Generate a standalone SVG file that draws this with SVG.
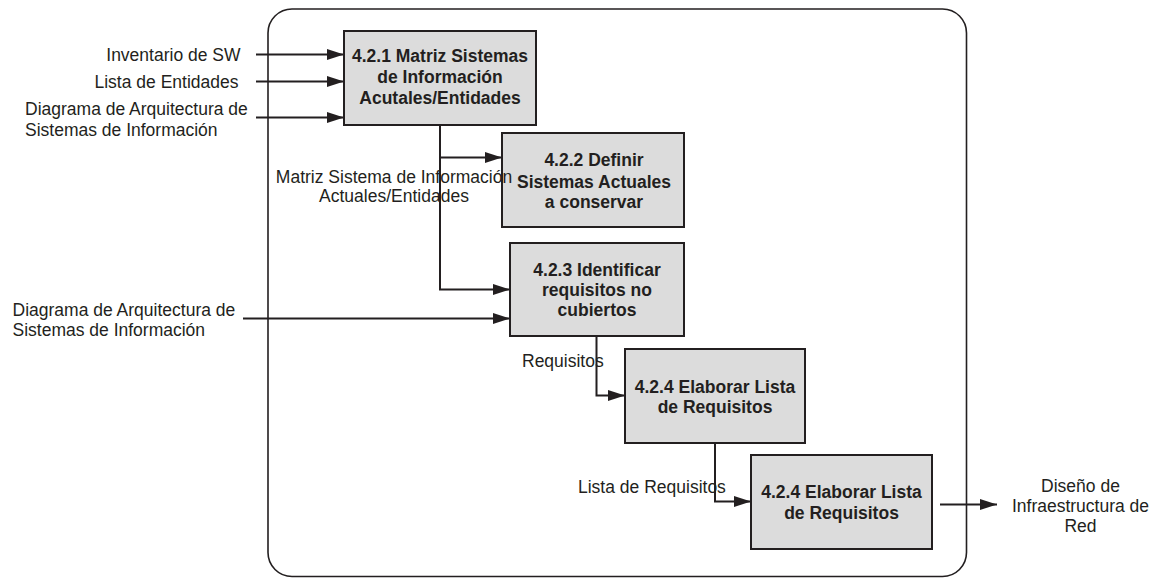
<svg xmlns="http://www.w3.org/2000/svg" width="1156" height="578" viewBox="0 0 1156 578">
  <style>
    .frame { fill: none; stroke: #231f20; stroke-width: 1.6; }
    .box { fill: #dcdcdc; stroke: #231f20; stroke-width: 2; }
    .wire { fill: none; stroke: #231f20; stroke-width: 2; }
    .arrow { marker-end: url(#head); }
    .lbl { font-family: "Liberation Sans", Arial, sans-serif; font-size: 17.5px; fill: #231f20; }
    .ttl { font-family: "Liberation Sans", Arial, sans-serif; font-size: 17.5px; font-weight: bold; fill: #231f20; text-anchor: middle; }
  </style>
  <defs>
    <marker id="head" markerUnits="userSpaceOnUse" markerWidth="18" markerHeight="12" refX="17" refY="6" orient="auto">
      <path d="M0,0.5 L17,6 L0,11.5 Z" fill="#231f20"/>
    </marker>
  </defs>

  <rect width="1156" height="578" fill="#ffffff"/>

  <!-- process boundary -->
  <rect class="frame" x="268" y="9" width="698.5" height="567.5" rx="24" ry="24"/>

  <!-- connectors -->
  <g id="connectors">
    <line class="wire arrow" x1="256" y1="54.5" x2="344" y2="54.5"/>
    <line class="wire arrow" x1="256" y1="81.5" x2="344" y2="81.5"/>
    <line class="wire arrow" x1="256" y1="117.5" x2="344" y2="117.5"/>
    <polyline class="wire arrow" points="440,125 440,157.5 502,157.5"/>
    <polyline class="wire arrow" points="440,157.5 440,289.5 510,289.5"/>
    <line class="wire arrow" x1="243" y1="318.5" x2="510" y2="318.5"/>
    <polyline class="wire arrow" points="596.5,336 596.5,395.5 625,395.5"/>
    <polyline class="wire arrow" points="715,443 715,501.5 751,501.5"/>
    <line class="wire arrow" x1="940" y1="504.5" x2="997" y2="504.5"/>
  </g>

  <!-- activities -->
  <g id="n421">
    <rect class="box" x="344" y="31" width="192" height="94"/>
    <text class="ttl" x="440" y="62">4.2.1 Matriz Sistemas</text>
    <text class="ttl" x="440" y="83">de Información</text>
    <text class="ttl" x="440" y="103.5">Acutales/Entidades</text>
  </g>
  <g id="n422">
    <rect class="box" x="502" y="133" width="182" height="94"/>
    <text class="ttl" x="594" y="166">4.2.2 Definir</text>
    <text class="ttl" x="594" y="187.5">Sistemas Actuales</text>
    <text class="ttl" x="594" y="207.5">a conservar</text>
  </g>
  <g id="n423">
    <rect class="box" x="510" y="243" width="174" height="93"/>
    <text class="ttl" x="597" y="275.5">4.2.3 Identificar</text>
    <text class="ttl" x="597" y="296">requisitos no</text>
    <text class="ttl" x="597" y="316">cubiertos</text>
  </g>
  <g id="n424a">
    <rect class="box" x="625" y="349" width="180" height="94"/>
    <text class="ttl" x="715" y="392.5">4.2.4 Elaborar Lista</text>
    <text class="ttl" x="715" y="413">de Requisitos</text>
  </g>
  <g id="n424b">
    <rect class="box" x="751" y="455" width="181" height="94"/>
    <text class="ttl" x="841.5" y="498">4.2.4 Elaborar Lista</text>
    <text class="ttl" x="841.5" y="518.5">de Requisitos</text>
  </g>

  <!-- flow labels, drawn last so they sit on top -->
  <g id="labels">
    <text class="lbl" x="240.5" y="61" text-anchor="end">Inventario de SW</text>
    <text class="lbl" x="238.5" y="88" text-anchor="end">Lista de Entidades</text>
    <text class="lbl" x="25" y="114.5">Diagrama de Arquitectura de</text>
    <text class="lbl" x="25" y="135.5">Sistemas de Información</text>
    <text class="lbl" x="12.5" y="315.5">Diagrama de Arquitectura de</text>
    <text class="lbl" x="12.5" y="336">Sistemas de Información</text>
    <text class="lbl" x="394" y="182.5" text-anchor="middle">Matriz Sistema de Información</text>
    <text class="lbl" x="394" y="202" text-anchor="middle">Actuales/Entidades</text>
    <text class="lbl" x="522" y="366.5">Requisitos</text>
    <text class="lbl" x="578" y="492.5">Lista de Requisitos</text>
    <text class="lbl" x="1080.5" y="491.5" text-anchor="middle">Diseño de</text>
    <text class="lbl" x="1080.5" y="511.5" text-anchor="middle">Infraestructura de</text>
    <text class="lbl" x="1080.5" y="531.5" text-anchor="middle">Red</text>
  </g>
</svg>
